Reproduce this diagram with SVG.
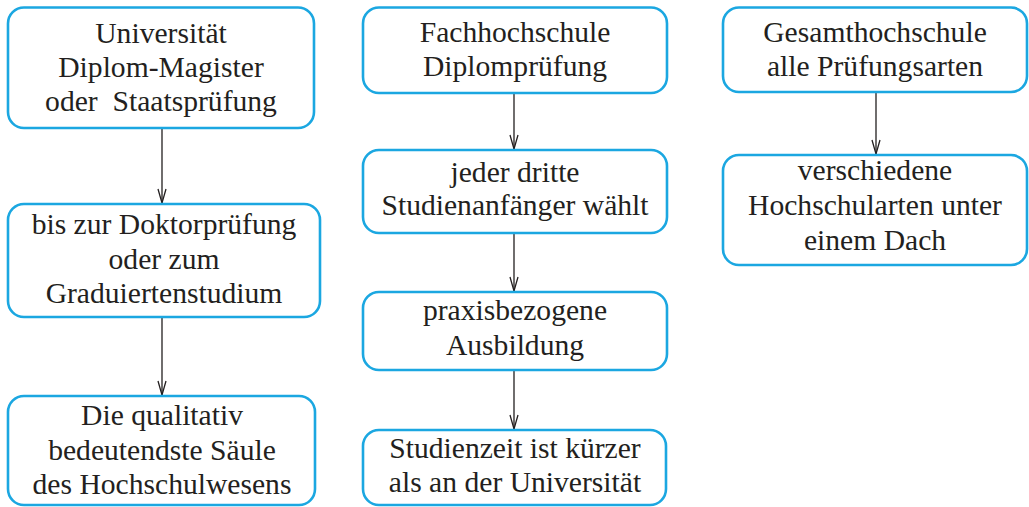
<svg xmlns="http://www.w3.org/2000/svg" width="1029" height="507" viewBox="0 0 1029 507">
<style>
.box{fill:#fff;stroke:#1ba7e1;stroke-width:2.6}
.t{font-family:'Liberation Serif','Times New Roman',Times,serif;font-size:29.6px;fill:#231f20;text-anchor:middle;white-space:pre}
.c{stroke:#231f20;stroke-width:1.3;fill:none;marker-end:url(#ah)}
</style>
<defs>
<marker id="ah" viewBox="0 0 16 10" refX="15" refY="5" markerWidth="16" markerHeight="10" markerUnits="userSpaceOnUse" orient="auto">
<path d="M1,1 L15,5 L1,9" fill="none" stroke="#231f20" stroke-width="1.3"/>
</marker>
</defs>
<rect width="1029" height="507" fill="#fff"/>
<g id="connectors">
<line class="c" x1="162" y1="129" x2="162" y2="203"/>
<line class="c" x1="162" y1="318" x2="162" y2="395"/>
<line class="c" x1="514" y1="94" x2="514" y2="149"/>
<line class="c" x1="514" y1="234" x2="514" y2="291"/>
<line class="c" x1="514" y1="371" x2="514" y2="429"/>
<line class="c" x1="876" y1="93" x2="876" y2="154"/>
</g>
<g id="n1"><rect class="box" x="8" y="7.5" width="306" height="120.5" rx="16"/>
<text class="t" x="161" y="43">Universität</text><text class="t" x="161" y="77">Diplom-Magister</text><text class="t" x="161" y="111">oder  Staatsprüfung</text></g>
<g id="n2"><rect class="box" x="8" y="204" width="312" height="113" rx="16"/>
<text class="t" x="164" y="234">bis zur Doktorprüfung</text><text class="t" x="164" y="269">oder zum</text><text class="t" x="164" y="303">Graduiertenstudium</text></g>
<g id="n3"><rect class="box" x="8" y="396" width="307" height="109" rx="16"/>
<text class="t" x="162" y="425">Die qualitativ</text><text class="t" x="162" y="460">bedeutendste Säule</text><text class="t" x="162" y="494">des Hochschulwesens</text></g>
<g id="m1"><rect class="box" x="363" y="7.5" width="304" height="85.5" rx="16"/>
<text class="t" x="515" y="42">Fachhochschule</text><text class="t" x="515" y="76">Diplomprüfung</text></g>
<g id="m2"><rect class="box" x="363" y="150" width="304" height="83" rx="16"/>
<text class="t" x="515" y="182">jeder dritte</text><text class="t" x="515" y="215">Studienanfänger wählt</text></g>
<g id="m3"><rect class="box" x="363" y="292" width="304" height="78" rx="16"/>
<text class="t" x="515" y="320">praxisbezogene</text><text class="t" x="515" y="355">Ausbildung</text></g>
<g id="m4"><rect class="box" x="363" y="430" width="303" height="75" rx="16"/>
<text class="t" x="515" y="458">Studienzeit ist kürzer</text><text class="t" x="515" y="492">als an der Universität</text></g>
<g id="r1"><rect class="box" x="723" y="7.5" width="304" height="84.5" rx="16"/>
<text class="t" x="875" y="42">Gesamthochschule</text><text class="t" x="875" y="76">alle Prüfungsarten</text></g>
<g id="r2"><rect class="box" x="723" y="155" width="304" height="110" rx="16"/>
<text class="t" x="875" y="180">verschiedene</text><text class="t" x="875" y="215">Hochschularten unter</text><text class="t" x="875" y="250">einem Dach</text></g>
</svg>
